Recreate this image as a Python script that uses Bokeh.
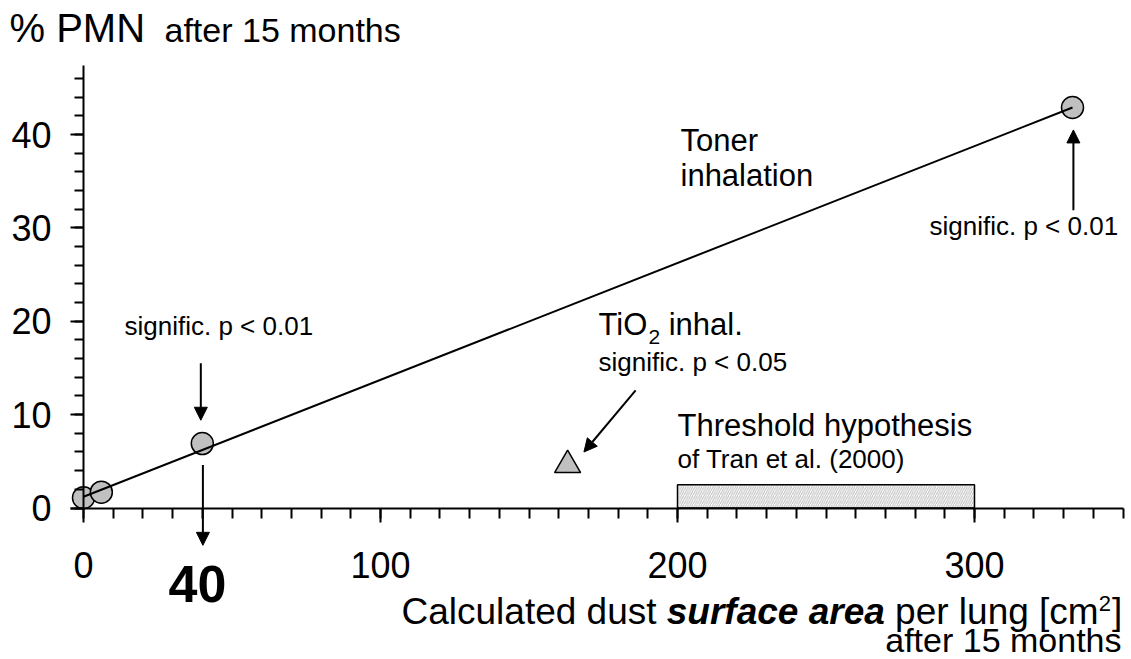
from bokeh.plotting import figure
from bokeh.models import (Label, Arrow, NormalHead, SingleIntervalTicker, Range1d,
                          ColumnDataSource, LinearAxis)
from bokeh.embed import file_html
from bokeh.resources import INLINE

# ---------------- data ----------------
toner_x = [0, 6, 40, 333]
toner_y = [1.1, 1.7, 6.9, 42.9]
fit_x = [0, 333]
fit_y = [1.2, 42.9]
tio2_x = [163]
tio2_y = [4.6]
thr_left = [200]
thr_right = [300]
thr_bottom = [0]
thr_top = [2.5]

arrow_x_start = [39.5, 40.2, 333.3, 185.9]
arrow_y_start = [15.5, 4.6, 31.9, 12.6]
arrow_x_end = [39.5, 40.2, 333.3, 168.5]
arrow_y_end = [9.4, -4.0, 40.5, 6.0]

x_major_interval = 100
y_major_interval = 10
x_axis_bounds = (-4.38, 350.2)
y_axis_bounds = (0, 47.4)

# ---------------- layout (frame = whole canvas) ----------------
W, H = 1131, 659
X0PX, SX = 83.0, 2.97      # pixel of x=0, px per unit
Y0PX, SY = 507.5, 9.335    # pixel of y=0, px per unit
XR = (-X0PX / SX, (W - X0PX) / SX)
YR = (-(H - Y0PX) / SY, Y0PX / SY)
FONT = "Liberation Sans"
BASE_SHIFT = 0.38          # svg label baseline correction (fraction of font size)


def dx(px):
    return (px - X0PX) / SX


def dy(py):
    return (Y0PX - py) / SY


REG = {' ': 278, '%': 889, '(': 333, ')': 333, '.': 278, '<': 584, '[': 278, ']': 278,
       'C': 722, 'M': 833, 'N': 722, 'O': 778, 'P': 667, 'T': 611,
       'a': 556, 'c': 500, 'd': 556, 'e': 556, 'f': 278, 'g': 556, 'h': 556, 'i': 222,
       'l': 222, 'm': 833, 'n': 556, 'o': 556, 'p': 556, 'r': 333, 's': 500, 't': 278,
       'u': 556, 'y': 500}
BOLD = {' ': 278, 'a': 556, 'c': 556, 'e': 556, 'f': 333, 'r': 389, 's': 556, 'u': 611}


def tw(text, size, bold=False):
    tab = BOLD if bold else REG
    return sum((556 if ch.isdigit() else tab.get(ch, 556)) for ch in text) * size / 1000.0


p = figure(width=W, height=H, x_range=Range1d(*XR), y_range=Range1d(*YR),
           output_backend="svg", toolbar_location=None,
           min_border=0, min_border_left=0, min_border_right=0,
           min_border_top=0, min_border_bottom=0,
           x_axis_type=None, y_axis_type=None)
p.outline_line_color = None
p.background_fill_color = "white"
p.border_fill_color = "white"

xaxis = LinearAxis(fixed_location=0, bounds=x_axis_bounds,
                   ticker=SingleIntervalTicker(interval=x_major_interval, num_minor_ticks=10))
yaxis = LinearAxis(fixed_location=0, bounds=y_axis_bounds,
                   ticker=SingleIntervalTicker(interval=y_major_interval, num_minor_ticks=5))
for ax, mj, mn, so in ((xaxis, 14, 10, 30), (yaxis, 13, 9, 19)):
    ax.axis_line_width = 2
    ax.axis_line_color = "black"
    ax.major_tick_line_width = 2
    ax.minor_tick_line_width = 2
    ax.major_tick_line_color = "black"
    ax.minor_tick_line_color = "black"
    ax.major_tick_in = 0
    ax.minor_tick_in = 0
    ax.major_tick_out = mj
    ax.minor_tick_out = mn
    ax.major_label_standoff = so
    ax.major_label_text_font = FONT
    ax.major_label_text_font_size = "36px"
    ax.major_label_text_color = "black"
p.add_layout(xaxis, "below")
p.add_layout(yaxis, "left")

# threshold box
p.quad(left=thr_left, right=thr_right, bottom=thr_bottom, top=thr_top,
       fill_color="white", line_color="black", line_width=1.5,
       hatch_pattern="/", hatch_color="#bdbdbd", hatch_scale=4.5, hatch_weight=1)

# toner points + fit line
p.scatter(toner_x, toner_y, marker="circle", size=22, fill_color="#c0c0c0",
          line_color="black", line_width=1.5)
p.line(fit_x, fit_y, line_color="black", line_width=2)

# TiO2
p.scatter(tio2_x, tio2_y, marker="triangle", size=26, fill_color="#c0c0c0",
          line_color="black", line_width=1.5)

# arrows
asrc = ColumnDataSource(dict(x0=arrow_x_start, y0=arrow_y_start, x1=arrow_x_end, y1=arrow_y_end))
p.add_layout(Arrow(x_start="x0", y_start="y0", x_end="x1", y_end="y1", source=asrc,
                   line_width=2, line_color="black",
                   end=NormalHead(size=13, fill_color="black", line_color="black", line_width=1)))


def txt(text, px, py, size, style="normal", align="left", bold=False):
    # shift for leading spaces (SVG collapses them)
    lead = len(text) - len(text.lstrip(" "))
    if lead and align == "left":
        px += tw(" " * lead, size, bold)
    py = py - BASE_SHIFT * size
    p.add_layout(Label(x=dx(px), y=dy(py), text=text.strip(" "), text_font=FONT,
                       text_font_size=f"{size}px", text_font_style=style,
                       text_align=align, text_baseline="alphabetic", text_color="black"))


# title
txt("% PMN", 9, 42.7, 40)
txt("after 15 months", 164, 42.7, 34)

# annotations
txt("Toner", 680, 151.7, 31)
txt("inhalation", 680, 186.7, 31)
txt("signific. p < 0.01", 929, 235, 26)
txt("signific. p < 0.01", 124, 335, 26)
x0 = 598
txt("TiO", x0, 336, 31)
x1 = x0 + tw("TiO", 31)
txt("2", x1, 344, 21)
txt(" inhal.", x1 + tw("2", 21), 336, 31)
txt("signific. p < 0.05", 598, 371, 26)
txt("Threshold hypothesis", 677, 436.7, 31)
txt("of Tran et al. (2000)", 677, 468, 26)

# bold 40
txt("40", 197, 603, 52, style="bold", align="center")

# x axis label (mixed styles)
LS = 37
bx = 401
by = 625
txt("Calculated dust", bx, by, LS)
bx += tw("Calculated dust ", LS)
txt("surface area", bx, by, LS, style="bold italic", bold=True)
bx += tw("surface area", LS, bold=True)
txt(" per lung [cm", bx, by, LS)
bx += tw(" per lung [cm", LS)
txt("2", bx, by - 14, 22)
bx += tw("2", 22) + 1
txt("]", bx, by, LS)
txt("after 15 months", 1121, 652, 34, align="right")

open("out.html", "w").write(file_html(p, INLINE))
